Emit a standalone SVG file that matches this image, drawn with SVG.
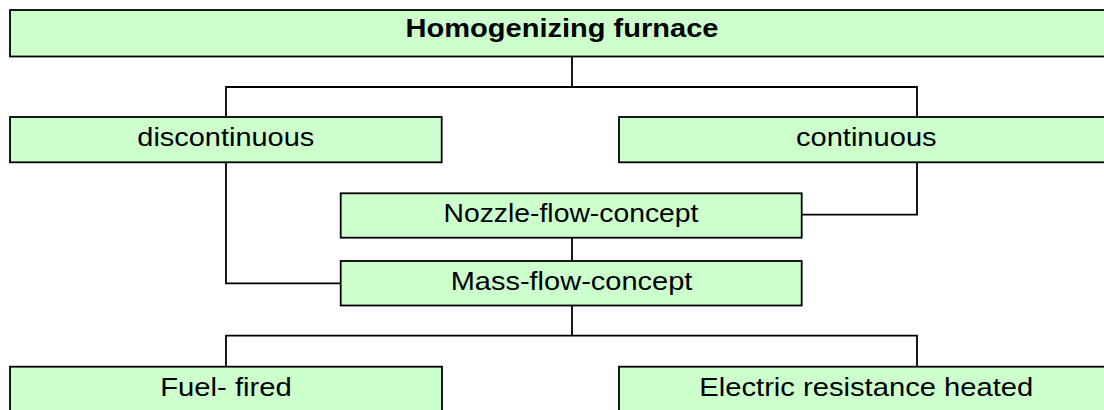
<svg xmlns="http://www.w3.org/2000/svg" width="1104" height="410" viewBox="0 0 1104 410">
<style>
.box{fill:#CCFFCC;stroke:#000;stroke-width:1.8}
.lbl{font-family:"Liberation Sans",Arial,sans-serif;font-size:25px;fill:#000;text-anchor:middle}
.b{font-weight:bold}
.con{fill:none;stroke:#000;stroke-width:1.8}
</style>
<rect width="1104" height="410" fill="#fff"/>
<g id="connectors">
<path class="con" d="M572,56.5V87M226,117V87H917V117"/>
<path class="con" d="M226,162.3V283.3H340.7"/>
<path class="con" d="M917,162.3V214.7H801.7"/>
<path class="con" d="M572,237.7V261"/>
<path class="con" d="M572,305.5V335.7M226,366.7V335.7H917V366.7"/>
</g>
<g id="homogenizing">
<rect class="box" x="10" y="10" width="1104" height="46.5"/>
<text class="lbl b" x="562" y="36.5" textLength="313" lengthAdjust="spacingAndGlyphs">Homogenizing furnace</text>
</g>
<g id="discontinuous">
<rect class="box" x="10" y="117" width="431.7" height="45.3"/>
<text class="lbl" x="225.8" y="146" textLength="177" lengthAdjust="spacingAndGlyphs">discontinuous</text>
</g>
<g id="continuous">
<rect class="box" x="619" y="117" width="495" height="45.3"/>
<text class="lbl" x="866.3" y="146" textLength="140.7" lengthAdjust="spacingAndGlyphs">continuous</text>
</g>
<g id="nozzle">
<rect class="box" x="340.7" y="193.3" width="461" height="44.4"/>
<text class="lbl" x="571" y="222" textLength="255" lengthAdjust="spacingAndGlyphs">Nozzle-flow-concept</text>
</g>
<g id="mass">
<rect class="box" x="340.7" y="261" width="461" height="44.5"/>
<text class="lbl" x="571.5" y="290" textLength="241.7" lengthAdjust="spacingAndGlyphs">Mass-flow-concept</text>
</g>
<g id="fuel">
<rect class="box" x="10" y="366.7" width="432" height="46"/>
<text class="lbl" x="226" y="395.5" textLength="131.7" lengthAdjust="spacingAndGlyphs">Fuel- fired</text>
</g>
<g id="electric">
<rect class="box" x="619" y="366.7" width="495" height="46"/>
<text class="lbl" x="866.3" y="395.5" textLength="334" lengthAdjust="spacingAndGlyphs">Electric resistance heated</text>
</g>
</svg>
